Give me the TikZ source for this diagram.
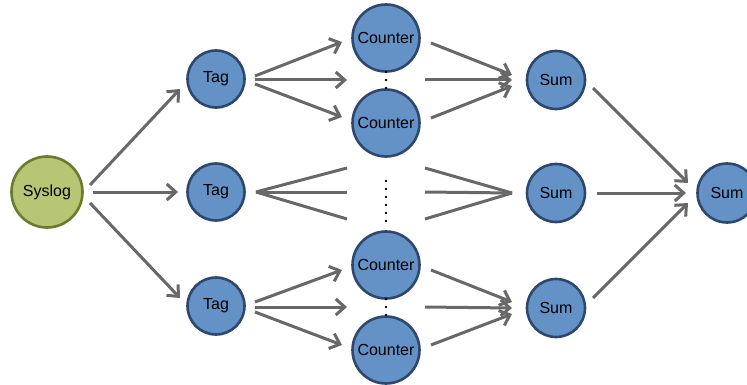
\documentclass[tikz,border=0pt]{standalone}
\usepackage{fontspec}
\setmainfont{Liberation Sans}
\usetikzlibrary{arrows.meta}
\definecolor{nodeblue}{RGB}{101,146,198}
\definecolor{edgeblue}{RGB}{45,72,110}
\definecolor{nodegreen}{RGB}{182,198,116}
\definecolor{edgegreen}{RGB}{106,122,46}
\definecolor{linkgray}{RGB}{104,104,104}
\tikzset{
  proc/.style={circle, draw=edgeblue, fill=nodeblue, line width=2.6pt, inner sep=0pt,
               font=\fontsize{16}{18}\selectfont},
  src/.style={circle, draw=edgegreen, fill=nodegreen, line width=2.6pt, inner sep=0pt,
              font=\fontsize{16}{18}\selectfont},
  link/.style={draw=linkgray, line width=3pt},
  arr/.style={link, -{Straight Barb[length=9pt, width=16pt, line width=3pt]}},
  dot/.style={circle, fill=black, inner sep=0pt, minimum size=2.6pt}
}
\begin{document}
\begin{tikzpicture}[x=1pt, y=-1pt]
\useasboundingbox (0,0) rectangle (747,385);

% nodes
\node[src,  minimum size=71pt] (syslog) at (47,192) {Syslog};
\node[proc, minimum size=57pt] (tag1) at (216,79)  {Tag};
\node[proc, minimum size=57pt] (tag2) at (216,192) {Tag};
\node[proc, minimum size=57pt] (tag3) at (216,306) {Tag};
\node[proc, minimum size=67pt] (c1) at (386,38)  {Counter};
\node[proc, minimum size=67pt] (c2) at (386,123) {Counter};
\node[proc, minimum size=67pt] (c3) at (386,265) {Counter};
\node[proc, minimum size=67pt] (c4) at (386,350) {Counter};
\node[proc, minimum size=58pt] (s1) at (556,80)  {Sum};
\node[proc, minimum size=58pt] (s2) at (556,193) {Sum};
\node[proc, minimum size=58pt] (s3) at (556,308) {Sum};
\node[proc, minimum size=59pt] (sf) at (727,193) {Sum};

% ellipsis dots between counters
\foreach \y [count=\i] in {72,80,88}
  \node[dot] (dA\i) at (386,\y) {};
\foreach \y [count=\i] in {181,189,197,205,213,221}
  \node[dot] (dB\i) at (386,\y) {};
\foreach \y [count=\i] in {299,307,315}
  \node[dot] (dC\i) at (386,\y) {};

% syslog to tags
\draw[arr] ([shift={(43,-7)}]syslog.center) -- ([shift={(-36,10)}]tag1.center);
\draw[arr] ([shift={(46,0)}]syslog.center)  -- ([shift={(-38,0)}]tag2.center);
\draw[arr] ([shift={(43,11)}]syslog.center) -- ([shift={(-36,-8)}]tag3.center);

% upper tag to counters
\draw[arr] ([shift={(39,-3)}]tag1.center) -- ([shift={(-44,4)}]c1.center);
\draw[arr] ([shift={(39,1)}]tag1.center)  -- ([shift={(-39,0)}]dA2.center);
\draw[arr] ([shift={(39,5)}]tag1.center)  -- ([shift={(-44,-6)}]c2.center);
\draw[arr] ([shift={(45,5)}]c1.center)    -- ([shift={(-44,-5)}]s1.center);
\draw[arr] ([shift={(39,0)}]dA2.center)   -- ([shift={(-44,0)}]s1.center);
\draw[arr] ([shift={(45,-5)}]c2.center)   -- ([shift={(-44,6)}]s1.center);

% middle tag fan (open ends)
\draw[link] ([shift={(40,0)}]tag2.center) -- ([shift={(131,-24)}]tag2.center);
\draw[link] ([shift={(40,0)}]tag2.center) -- ([shift={(131,0)}]tag2.center);
\draw[link] ([shift={(40,0)}]tag2.center) -- ([shift={(131,27)}]tag2.center);
\draw[link] ([shift={(-131,-25)}]s2.center) -- ([shift={(-44,0)}]s2.center);
\draw[link] ([shift={(-131,-1)}]s2.center)  -- ([shift={(-44,0)}]s2.center);
\draw[link] ([shift={(-131,26)}]s2.center)  -- ([shift={(-44,0)}]s2.center);

% lower tag to counters
\draw[arr] ([shift={(39,-4)}]tag3.center) -- ([shift={(-44,5)}]c3.center);
\draw[arr] ([shift={(39,1)}]tag3.center)  -- ([shift={(-39,0)}]dC2.center);
\draw[arr] ([shift={(39,6)}]tag3.center)  -- ([shift={(-44,-5)}]c4.center);
\draw[arr] ([shift={(45,5)}]c3.center)    -- ([shift={(-44,-6)}]s3.center);
\draw[arr] ([shift={(39,0)}]dC2.center)   -- ([shift={(-44,0)}]s3.center);
\draw[arr] ([shift={(45,-5)}]c4.center)   -- ([shift={(-44,6)}]s3.center);

% sums to final sum
\draw[arr] ([shift={(37,8)}]s1.center)  -- ([shift={(-39,-10)}]sf.center);
\draw[arr] ([shift={(41,0)}]s2.center)  -- ([shift={(-41,0)}]sf.center);
\draw[arr] ([shift={(37,-10)}]s3.center) -- ([shift={(-39,10)}]sf.center);
\end{tikzpicture}
\end{document}
